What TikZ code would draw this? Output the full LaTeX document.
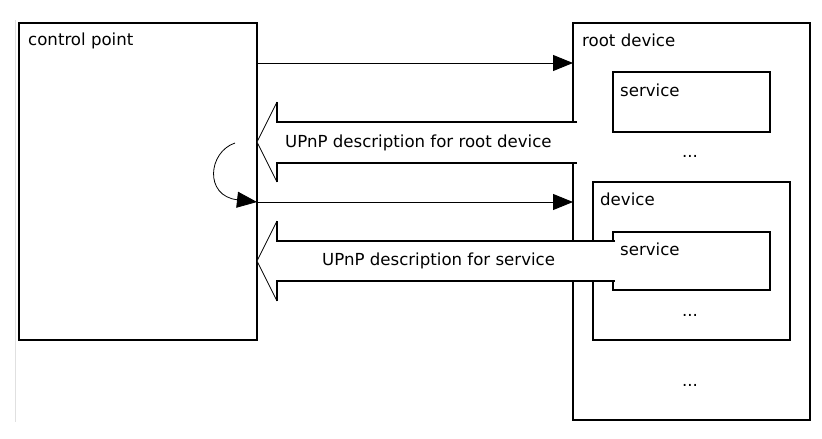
\documentclass[tikz,border=0pt]{standalone}
\usepackage{fontspec}
\setmainfont{DejaVu Sans}
\usetikzlibrary{arrows.meta}
\begin{document}
\begin{tikzpicture}[x=1pt,y=-1pt,
  box/.style={draw=black,line width=1.2pt,fill=white,anchor=north west,inner sep=0pt,outer sep=0pt},
  lbl/.style={anchor=base west,inner sep=0pt,font=\fontsize{16.6}{18}\selectfont},
  dots/.style={anchor=base,inner sep=0pt,font=\fontsize{16.6}{18}\selectfont},
  head/.style={-{Triangle[length=20pt,width=16pt]}},
  msg/.style={line width=1pt,head},
  wide/.style={line width=1.1pt,line join=miter}]
\useasboundingbox (0,0) rectangle (822,439);
\draw[black!12,line width=0.8pt] (15.5,20) -- (15.5,422);
% boxes
\node[box,minimum width=238pt,minimum height=317pt] (cp) at (19,23) {};
\node[box,minimum width=237pt,minimum height=397pt] (root) at (573,23) {};
\node[box,minimum width=157pt,minimum height=60pt] (svc1) at (613,72) {};
\node[box,minimum width=197pt,minimum height=158pt] (dev) at (593,182) {};
\node[box,minimum width=157pt,minimum height=58pt] (svc2) at (613,232) {};
% labels
\node[lbl] (cpl) at (28,45) {control point};
\node[lbl] (rootl) at (582,46) {root device};
\node[lbl] (svc1l) at (620,96) {service};
\node[lbl] (devl) at (600,205) {device};
\node[lbl] (svc2l) at (620,255) {service};
\node[dots] (d1) at (690,157) {...};
\node[dots] (d2) at (690,316) {...};
\node[dots] (d3) at (690,386) {...};
% requests
\coordinate (r1) at (0,63);
\coordinate (r2) at (0,202);
\draw[msg] (cp.east |- r1) -- (root.west |- r1);
\draw[msg] (cp.east |- r2) -- (root.west |- r2);
% self arrow
\coordinate (cs) at (235,143);
\draw[line width=0.8pt,head] (cs) .. controls (208,152) and (204,196) .. (cp.east |- r2);
% wide response arrows
\coordinate (t1) at (257,142);
\fill[white] (577,122) -- (277,122) -- (277,102) -- (t1) -- (277,182) -- (277,163) -- (577,163) -- cycle;
\draw[wide] (577,122) -- (277,122) -- (277,102);
\draw[line width=0.8pt] (277,102) -- (t1) -- (277,182);
\draw[wide] (277,182) -- (277,163) -- (577,163);
\node[lbl] (m1) at (285,147) {UPnP description for root device};
\coordinate (t2) at (257,261);
\fill[white] (615,241) -- (277,241) -- (277,221) -- (t2) -- (277,301) -- (277,281) -- (615,281) -- cycle;
\draw[wide] (615,241) -- (277,241) -- (277,221);
\draw[line width=0.8pt] (277,221) -- (t2) -- (277,301);
\draw[wide] (277,301) -- (277,281) -- (615,281);
\node[lbl] (m2) at (322,265) {UPnP description for service};
\end{tikzpicture}
\end{document}
